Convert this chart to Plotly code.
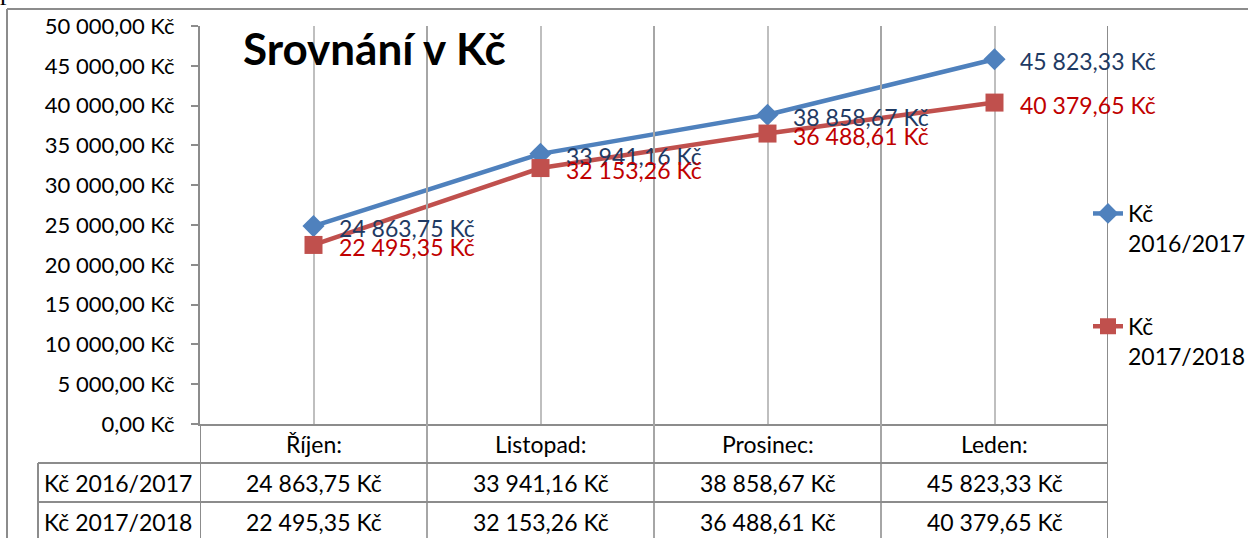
import plotly.graph_objects as go

# ---------------- data ----------------
categories = ["Říjen:", "Listopad:", "Prosinec:", "Leden:"]
series_names = ["Kč 2016/2017", "Kč 2017/2018"]
values_2016_2017 = [24863.75, 33941.16, 38858.67, 45823.33]
values_2017_2018 = [22495.35, 32153.26, 36488.61, 40379.65]
ytick_values = [0, 5000, 10000, 15000, 20000, 25000, 30000, 35000, 40000, 45000, 50000]
ytick_labels = ["0,00 Kč", "5 000,00 Kč", "10 000,00 Kč", "15 000,00 Kč", "20 000,00 Kč",
                "25 000,00 Kč", "30 000,00 Kč", "35 000,00 Kč", "40 000,00 Kč",
                "45 000,00 Kč", "50 000,00 Kč"]
title_text = "Srovnání v Kč"
legend_labels = ["Kč<br>2016/2017", "Kč<br>2017/2018"]


def fmt(v):
    s = f"{v:,.2f}"
    return s.replace(",", " ").replace(".", ",") + " Kč"


# ---------------- style ----------------
W, H = 1248, 538
L, R_EDGE, TOP, BOT = 200, 1108, 26, 424
PW, PH = R_EDGE - L, BOT - TOP
ROW_H = 39
FONT = "Lato"
FS = 23
FS_TICK = 22
GRID = "#BFBFBF"
AX = "#8C8C8C"
BLUE, RED = "#4F81BD", "#C0504D"
BLUE_T, RED_T = "#1F3A63", "#C00000"


def px_x(p):
    return (p - L) / PW


def px_y(p):
    return (BOT - p) / PH


fig = go.Figure()
series = [values_2016_2017, values_2017_2018]
colors = [BLUE, RED]
symbols = ["diamond", "square"]
sizes = [17, 18]
for i, vals in enumerate(series):
    fig.add_trace(go.Scatter(
        x=categories, y=vals, mode="lines+markers", name=legend_labels[i],
        legendgroup=f"g{i}",
        line=dict(color=colors[i], width=4.5),
        marker=dict(symbol=symbols[i], size=sizes[i], color=colors[i]),
        hoverinfo="skip",
    ))

annotations = []
text_colors = [BLUE_T, RED_T]
for i, vals in enumerate(series):
    for c, v in zip(categories, vals):
        annotations.append(dict(
            x=c, y=v, xref="x", yref="y", text=fmt(v), showarrow=False,
            xanchor="left", yanchor="middle", xshift=23, yshift=-2,
            font=dict(family=FONT, size=FS, color=text_colors[i]),
        ))

# table text
header_y = px_y(BOT + ROW_H / 2)
for c in categories:
    annotations.append(dict(x=c, y=header_y, xref="x", yref="paper", text=c,
                            showarrow=False, xanchor="center", yanchor="middle",
                            font=dict(family=FONT, size=FS, color="black")))
for r, vals in enumerate(series):
    yy = px_y(BOT + ROW_H * (r + 1.5))
    annotations.append(dict(x=px_x(42), y=yy, xref="paper", yref="paper",
                            text=series_names[r], showarrow=False,
                            xanchor="left", yanchor="middle",
                            font=dict(family=FONT, size=FS, color="black")))
    for c, v in zip(categories, vals):
        annotations.append(dict(x=c, y=yy, xref="x", yref="paper", text=fmt(v),
                                showarrow=False, xanchor="center", yanchor="middle",
                                font=dict(family=FONT, size=FS, color="black")))

# clipped document text at the very top
annotations.append(dict(x=px_x(-2), y=px_y(8.5), xref="paper", yref="paper",
                        text="počasí.", showarrow=False, xanchor="left",
                        yanchor="bottom",
                        font=dict(family="Liberation Serif", size=26, color="black")))

shapes = []
bottom_y = px_y(H + 10)
n = len(categories)
# category boundary lines (through chart and table)
for k in range(n):
    shapes.append(dict(type="line", xref="x", yref="paper", x0=k + 0.5, x1=k + 0.5,
                       y0=bottom_y, y1=1,
                       line=dict(color=AX if k == n - 1 else "#A6A6A6", width=2)))
# y axis line continued through the table
shapes.append(dict(type="line", xref="x", yref="paper", x0=-0.5, x1=-0.5,
                   y0=bottom_y, y1=0, line=dict(color=AX, width=2)))
# table horizontal lines
for r in range(1, 3):
    yy = px_y(BOT + ROW_H * r)
    shapes.append(dict(type="line", xref="paper", yref="paper", x0=px_x(38), x1=1,
                       y0=yy, y1=yy, line=dict(color=AX, width=2)))
# row label column left border
shapes.append(dict(type="line", xref="paper", yref="paper", x0=px_x(38), x1=px_x(38),
                   y0=bottom_y, y1=px_y(BOT + ROW_H), line=dict(color=AX, width=2)))
# outer chart frame
shapes.append(dict(type="line", xref="paper", yref="paper", x0=px_x(7), x1=px_x(7),
                   y0=bottom_y, y1=px_y(9), line=dict(color=AX, width=2)))
shapes.append(dict(type="line", xref="paper", yref="paper", x0=px_x(7), x1=px_x(W + 10),
                   y0=px_y(9), y1=px_y(9), line=dict(color=AX, width=2)))

fig.update_layout(
    width=W, height=H,
    margin=dict(l=L, r=W - R_EDGE, t=TOP, b=H - BOT, autoexpand=False),
    paper_bgcolor="white", plot_bgcolor="white",
    font=dict(family=FONT, size=FS, color="black"),
    title=dict(text=f"<b>{title_text}</b>", x=px_x(243), xref="paper", xanchor="left",
               y=1 - 50 / H, yref="container", yanchor="middle",
               font=dict(family=FONT, size=44, color="black")),
    xaxis=dict(type="category", categoryorder="array", categoryarray=categories,
               range=[-0.5, n - 0.5], showgrid=True, gridcolor=GRID, gridwidth=2,
               showticklabels=False, ticks="", showline=True, linecolor=AX,
               linewidth=2, zeroline=False, fixedrange=True),
    yaxis=dict(range=[0, 50000], tickvals=ytick_values, ticktext=ytick_labels,
               showgrid=False, zeroline=False, showline=True, linecolor=AX,
               linewidth=2, ticks="outside", ticklen=7, tickcolor=AX, tickwidth=2,
               ticklabelstandoff=12,
               tickfont=dict(family=FONT, size=FS_TICK, color="black"),
               fixedrange=True),
    legend=dict(x=1088 / W, y=1 - 192 / H, xanchor="left", yanchor="top",
                xref="container", yref="container", bgcolor="rgba(0,0,0,0)",
                font=dict(family=FONT, size=FS, color="black"),
                valign="top", tracegroupgap=50, itemwidth=30),
    annotations=annotations,
    shapes=shapes,
    showlegend=True,
)

fig.write_html("out.html", config={"displayModeBar": False},
               post_script="document.body.style.margin='0';document.body.style.padding='0';")
